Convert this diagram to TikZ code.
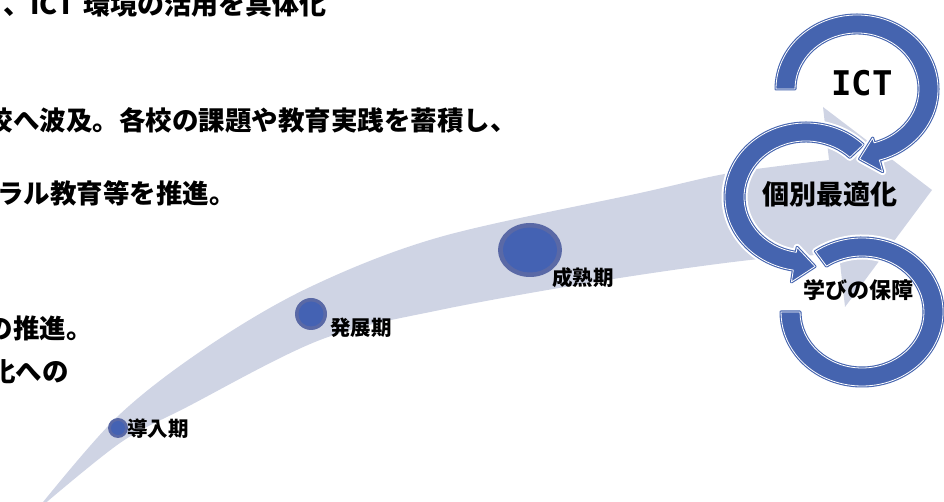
\documentclass[tikz,border=0pt]{standalone}
\usepackage{fontspec}
\setmainfont{Noto Sans CJK JP}
\newfontfamily\monofont{DejaVu Sans Mono}
\definecolor{bandc}{HTML}{CFD4E4}
\definecolor{ringc}{HTML}{4564AF}
\definecolor{rimc}{HTML}{5A69A6}
\definecolor{corec}{HTML}{4462B3}
% ring with arrowhead: cx, cy, start angle, end angle, tip angle
\newcommand\arrowring[5]{({#1+81*cos(#3)},{#2+74*sin(#3)}) arc[start angle=#3,end angle=#4,x radius=81,y radius=74]
 -- ({#1+93*cos(#4)},{#2+86*sin(#4)}) -- ({#1+74*cos(#5)},{#2+70*sin(#5)})
 -- ({#1+57*cos(#4)},{#2+51*sin(#4)}) -- ({#1+62*cos(#4)},{#2+56*sin(#4)})
 arc[start angle=#4,end angle=#3,x radius=62,y radius=56] -- cycle}
% ring without arrowhead: cx, cy, start angle, end angle
\newcommand\plainring[4]{({#1+81*cos(#3)},{#2+74*sin(#3)}) arc[start angle=#3,end angle=#4,x radius=81,y radius=74]
 -- ({#1+62*cos(#4)},{#2+56*sin(#4)}) arc[start angle=#4,end angle=#3,x radius=62,y radius=56] -- cycle}
\tikzset{
 ringhalo/.style={draw=white,line width=7pt,line join=round},
 ringbody/.style={fill=ringc,draw=ringc,line width=3pt,line join=round},
 ringline/.style={draw=white,line width=0.8pt,line join=round},
 lefttxt/.style={inner sep=0pt,anchor=east,text=black,font=\fontsize{26.5}{30}\selectfont\bfseries},
 phase/.style={inner sep=0pt,anchor=west,text=black,font=\fontsize{20.5}{24}\selectfont\bfseries},
}
\begin{document}
\begin{tikzpicture}[x=1pt,y=1pt]
\useasboundingbox (0,0) rectangle (944,502);
\clip (0,0) rectangle (944,502);
% left texts
\node[lefttxt,font=\fontsize{27}{30}\selectfont\bfseries] (l1) at (327,498) {、ICT\hspace{9pt}環境の活用を具体化};
\node[lefttxt] (l2) at (517,382) {校へ波及。各校の課題や教育実践を蓄積し、};
\node[lefttxt] (l3) at (236,309) {ラル教育等を推進。};
\node[lefttxt] (l4) at (93,174) {の推進。};
\node[lefttxt] (l5) at (69,130) {化への};
% big curved arrow
\fill[bandc] plot[smooth,tension=0.55] coordinates {(35,-10) (117,85) (207,155) (310,215) (440,265) (640,309) (730,329) (829,342)}
  -- (823,395) -- (932,312) -- (845,195)
  -- plot[smooth,tension=0.55] coordinates {(839,248) (750,242) (607,222) (440,192) (320,162) (187,95) (120,59) (35,-10)} -- cycle;
% phase dots
\fill[rimc] (118,74) circle[radius=10];
\fill[corec] (118,74) circle[radius=7];
\fill[rimc] (311,188) circle[radius=16];
\fill[corec] (311,188) circle[radius=12.5];
\fill[rimc] (530,252) ellipse[x radius=32,y radius=27];
\fill[corec] (530,252) ellipse[x radius=27,y radius=22.5];
\node[phase] (p1) at (127,73) {導入期};
\node[phase] (p2) at (330,174) {発展期};
\node[phase] (p3) at (552,224) {成熟期};
% rings
\path[ringhalo] \plainring{862}{190}{125}{-180};
\path[ringbody] \plainring{862}{190}{125}{-180};
\path[ringline] \plainring{862}{190}{125}{-180};
\path[ringhalo] \arrowring{806}{305}{45}{261}{277};
\path[ringbody] \arrowring{806}{305}{45}{261}{277};
\path[ringline] \arrowring{806}{305}{45}{261}{277};
\path[ringhalo] \arrowring{857}{413}{180}{-74}{-88};
\path[ringbody] \arrowring{857}{413}{180}{-74}{-88};
\path[ringline] \arrowring{857}{413}{180}{-74}{-88};
% ring texts
\node[inner sep=0pt,font=\monofont\fontsize{34}{38}\selectfont\bfseries] (ict) at (862,419) {ICT};
\node[inner sep=0pt,font=\fontsize{27}{30}\selectfont\bfseries] (kobetsu) at (830,308) {個別最適化};
\node[inner sep=0pt,font=\fontsize{22}{26}\selectfont\bfseries] (manabi) at (858,212) {学びの保障};
\end{tikzpicture}
\end{document}
